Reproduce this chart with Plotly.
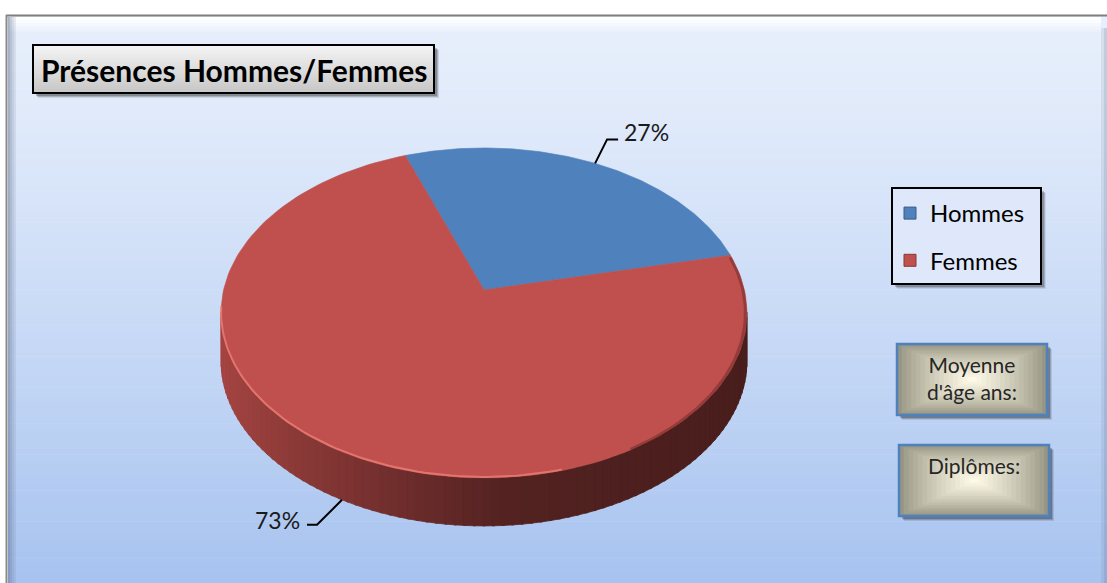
import numpy as np
import plotly.graph_objects as go

# ---------------- data ----------------
categories = ["Hommes", "Femmes"]
values = [27, 73]
slice_colors = ["#4F81BD", "#C0504D"]
chart_title = "Présences Hommes/Femmes"
info_labels = ["Moyenne<br>d'âge ans:", "Diplômes:"]

# ---------------- geometry / style ----------------
W, H = 1107, 583
CX, CY = 484.0, 290.0          # projected pie centre
RA, RB, PERSP = 260.4, 161.8, 0.139
DEPTH = 48.0
START_DEG = 110.0
FONT = "Lato"


def proj(t_deg, dy=0.0):
    t = np.radians(np.asarray(t_deg, dtype=float))
    X, Y = np.cos(t), np.sin(t)
    d = 1 + PERSP * Y
    return CX + RA * X / d, CY - RB * Y / d + dy


def hex2rgb(h):
    h = h.lstrip("#")
    return tuple(int(h[i:i + 2], 16) for i in (0, 2, 4))


def shade(hexcol, f):
    r, g, b = hex2rgb(hexcol)
    return f"rgb({int(r * f)},{int(g * f)},{int(b * f)})"


def mix(c1, c2, f):
    return "rgb(%d,%d,%d)" % tuple(int(a + (b - a) * f) for a, b in zip(c1, c2))


total = float(sum(values))
spans = [v / total * 360 for v in values]
starts = START_DEG - np.concatenate([[0], np.cumsum(spans)[:-1]])
ends = starts - np.array(spans)

fig = go.Figure()
shapes = []
annotations = []

# ---------------- background panel ----------------
top_c, bot_c = (231, 239, 252), (167, 195, 240)
n_b = 110
for k in range(n_b):
    ya = 16 + (H - 16) * k / n_b
    yb = 16 + (H - 16) * (k + 1) / n_b + 0.6
    fr = max(0.0, ((ya + yb) / 2 - 31) / (H - 31)) ** 1.2
    shapes.append(dict(type="rect", xref="x", yref="y", x0=8, x1=W, y0=ya, y1=yb,
                       fillcolor=mix(top_c, bot_c, fr), line=dict(width=0), layer="below"))
# top bevel (white)
for k, op in enumerate([0.95, 0.8, 0.6, 0.4, 0.2]):
    shapes.append(dict(type="rect", xref="x", yref="y", x0=9, x1=1101, y0=17 + k * 3, y1=20 + k * 3,
                       fillcolor=f"rgba(255,255,255,{op})", line=dict(width=0), layer="below"))
# left bevel (shadow)
for k, op in enumerate([0.45, 0.33, 0.22, 0.12]):
    shapes.append(dict(type="rect", xref="x", yref="y", x0=8 + k * 2, x1=10 + k * 2, y0=17, y1=H,
                       fillcolor=f"rgba(90,105,135,{op})", line=dict(width=0), layer="below"))
# right bevel
for k, op in enumerate([0.12, 0.25]):
    shapes.append(dict(type="rect", xref="x", yref="y", x0=1101 + k * 3, x1=1104 + k * 3, y0=28, y1=H,
                       fillcolor=f"rgba(90,105,135,{op})", line=dict(width=0), layer="below"))
# outer border
shapes.append(dict(type="line", xref="x", yref="y", x0=6, x1=W, y0=15.5, y1=15.5,
                   line=dict(color="#7f7f7f", width=2), layer="below"))
shapes.append(dict(type="line", xref="x", yref="y", x0=6.5, x1=6.5, y0=15, y1=H,
                   line=dict(color="#8a8a8a", width=2), layer="below"))

# ---------------- pie side (gradient strips) ----------------
t_lo = 180 + np.degrees(np.arcsin(PERSP))
t_hi = 360 - np.degrees(np.arcsin(PERSP))
x_left = float(proj(t_lo)[0])
x_right = float(proj(t_hi)[0])


def slice_at(t):
    for i, (s, e) in enumerate(zip(starts, ends)):
        if (s - t) % 360 <= (s - e):
            return i
    return len(values) - 1


edges = np.linspace(t_lo, t_hi, 91)
for a, b in zip(edges[:-1], edges[1:]):
    ts = np.linspace(a - 0.25, b + 0.25, 4)
    xt, yt = proj(ts)
    xb, yb = proj(ts[::-1], DEPTH)
    xm = float(proj((a + b) / 2)[0])
    u = (xm - x_left) / (x_right - x_left)
    f = np.interp(u, [0, 0.15, 0.34, 0.53, 0.72, 1], [0.86, 0.72, 0.58, 0.44, 0.41, 0.38])
    col = shade(slice_colors[slice_at((a + b) / 2)], f)
    fig.add_trace(go.Scatter(x=np.r_[xt, xb, xt[0]], y=np.r_[yt, yb, yt[0]], mode="lines",
                             fill="toself", fillcolor=col, line=dict(color=col, width=0.8),
                             hoverinfo="skip", showlegend=False))

# ---------------- pie top faces ----------------
for i, cat in enumerate(categories):
    ts = np.linspace(starts[i], ends[i], 160)
    x, y = proj(ts)
    fig.add_trace(go.Scatter(x=np.r_[CX, x, CX], y=np.r_[CY, y, CY], mode="lines",
                             fill="toself", fillcolor=slice_colors[i],
                             line=dict(color=slice_colors[i], width=0.6),
                             name=cat, hoverinfo="name", showlegend=False))

# rim highlight / shadow
ts = np.linspace(186, 285, 80)
x, y = proj(ts)
fig.add_trace(go.Scatter(x=x, y=y - 1, mode="lines", line=dict(color="rgba(236,125,118,0.8)", width=2),
                         hoverinfo="skip", showlegend=False))
ts = np.linspace(300, 372, 60)
x, y = proj(ts)
fig.add_trace(go.Scatter(x=x - 1.5, y=y, mode="lines", line=dict(color="rgba(70,20,20,0.35)", width=3),
                         hoverinfo="skip", showlegend=False))

# ---------------- data labels with leader lines ----------------
for i in range(len(values)):
    mid = (starts[i] + ends[i]) / 2
    front = np.sin(np.radians(mid)) < 0
    ax, ay = proj(mid, DEPTH if front else 0.0)
    ax, ay = float(ax), float(ay)
    pct = f"{round(values[i] / total * 100)}%"
    if not front:
        lx = [ax, ax + 12, ax + 23]
        ly = [ay, ay - 24, ay - 24]
        tx, ty, xa = ax + 27, ay - 31, "left"
    else:
        lx = [ax, ax - 25, ax - 35]
        ly = [ay, ay + 25, ay + 25]
        tx, ty, xa = ax - 40, ay + 20, "right"
    fig.add_trace(go.Scatter(x=lx, y=ly, mode="lines", line=dict(color="black", width=2),
                             hoverinfo="skip", showlegend=False))
    annotations.append(dict(x=tx, y=ty, xref="x", yref="y", text=pct, showarrow=False,
                            xanchor=xa, yanchor="middle", font=dict(family=FONT, size=23, color="#1a1a1a")))

# ---------------- title box ----------------
tx0, tx1, ty0, ty1 = 33, 434, 45, 93
for k, op in enumerate([0.10, 0.16, 0.22]):
    o = 5 - k
    shapes.append(dict(type="rect", xref="x", yref="y", x0=tx0 + o, x1=tx1 + o, y0=ty0 + o, y1=ty1 + o,
                       fillcolor=f"rgba(0,0,0,{op})", line=dict(width=0), layer="below"))
nt = 24
for k in range(nt):
    ya = ty0 + (ty1 - ty0) * k / nt
    yb = ty0 + (ty1 - ty0) * (k + 1) / nt + 0.5
    fr = k / (nt - 1)
    shapes.append(dict(type="rect", xref="x", yref="y", x0=tx0, x1=tx1, y0=ya, y1=yb,
                       fillcolor=mix((244, 244, 244), (200, 200, 200), fr), line=dict(width=0), layer="below"))
shapes.append(dict(type="rect", xref="x", yref="y", x0=tx0, x1=tx1, y0=ty0, y1=ty1,
                   line=dict(color="black", width=2), fillcolor="rgba(0,0,0,0)", layer="below"))
annotations.append(dict(x=(tx0 + tx1) / 2, y=(ty0 + ty1) / 2 + 1, xref="x", yref="y", text=f"<b>{chart_title}</b>",
                        showarrow=False, xanchor="center", yanchor="middle",
                        font=dict(family=FONT, size=30, color="black")))

# ---------------- legend box ----------------
lx0, lx1, ly0, ly1 = 892, 1041, 188, 284
for k, op in enumerate([0.08, 0.14, 0.2]):
    o = 5 - k
    shapes.append(dict(type="rect", xref="x", yref="y", x0=lx0 + o, x1=lx1 + o, y0=ly0 + o, y1=ly1 + o,
                       fillcolor=f"rgba(0,0,0,{op})", line=dict(width=0), layer="below"))
shapes.append(dict(type="rect", xref="x", yref="y", x0=lx0, x1=lx1, y0=ly0, y1=ly1,
                   fillcolor="rgb(222,232,250)", line=dict(color="black", width=2), layer="below"))

for i, cat in enumerate(categories):
    fig.add_trace(go.Scatter(x=[None], y=[None], mode="markers", name=cat, legendgroup=cat,
                             marker=dict(symbol="square", size=12, color=slice_colors[i],
                                         line=dict(color=shade(slice_colors[i], 0.7), width=1)),
                             showlegend=True))

# ---------------- info boxes ----------------
boxes = [(897, 1047, 344, 415), (899, 1049, 445, 516)]
edge_c, centre_c = (150, 148, 130), (253, 249, 230)
for (bx0, bx1, by0, by1), lab in zip(boxes, info_labels):
    for k, op in enumerate([0.10, 0.16, 0.22]):
        o = 5 - k
        shapes.append(dict(type="rect", xref="x", yref="y", x0=bx0 + o, x1=bx1 + o, y0=by0 + o, y1=by1 + o,
                           fillcolor=f"rgba(0,0,0,{op})", line=dict(width=0), layer="below"))
    nr = 16
    cxm, cym = (bx0 + bx1) / 2, (by0 + by1) / 2
    hw, hh = (bx1 - bx0) / 2, (by1 - by0) / 2
    for k in range(nr):
        s = 1 - k / nr
        fr = (k / (nr - 1)) ** 0.8
        shapes.append(dict(type="rect", xref="x", yref="y",
                           x0=cxm - hw * s, x1=cxm + hw * s, y0=cym - hh * s, y1=cym + hh * s,
                           fillcolor=mix(edge_c, centre_c, fr), line=dict(width=0), layer="below"))
    shapes.append(dict(type="rect", xref="x", yref="y", x0=bx0, x1=bx1, y0=by0, y1=by1,
                       fillcolor="rgba(0,0,0,0)", line=dict(color="#4F81BD", width=2.5), layer="below"))
    annotations.append(dict(x=cxm, y=by0 + 6, xref="x", yref="y", text=lab, showarrow=False,
                            xanchor="center", yanchor="top",
                            font=dict(family=FONT, size=21, color="#262626")))

fig.update_layout(
    width=W, height=H, autosize=False,
    margin=dict(l=0, r=0, t=0, b=0, pad=0),
    paper_bgcolor="white", plot_bgcolor="white",
    xaxis=dict(range=[0, W], visible=False, fixedrange=True, domain=[0, 1]),
    yaxis=dict(range=[H, 0], visible=False, fixedrange=True, domain=[0, 1]),
    shapes=shapes, annotations=annotations,
    showlegend=True,
    legend=dict(x=(lx0 - 2) / W, xanchor="left", y=1 - (ly0 + 3) / H, yanchor="top",
                bgcolor="rgba(0,0,0,0)", borderwidth=0,
                font=dict(family=FONT, size=24, color="black"),
                traceorder="grouped", tracegroupgap=13),
)

fig.write_html("out.html", config={"displayModeBar": False},
               post_script="document.body.style.margin='0';document.body.style.padding='0';")
